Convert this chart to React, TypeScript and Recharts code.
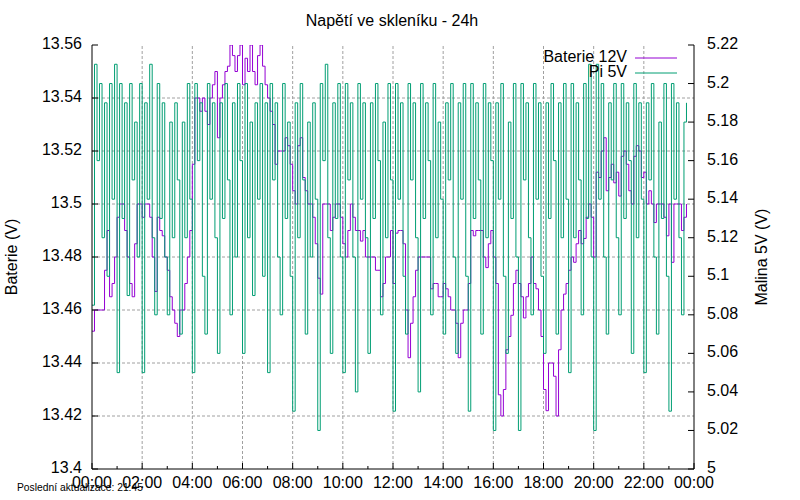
import React from 'react';
import { ComposedChart, Line, XAxis, YAxis, ReferenceLine } from 'recharts';

const FONT = '"Liberation Sans", Arial, sans-serif';
const PURPLE = '#9400d3';
const GREEN = '#009e73';
const GRID = '#a0a0a0';

// sampling interval of the logger, in hours (6 minutes)
const SAMPLE_STEP_H = 0.1;

const hourTicks = [0, 1, 2, 3, 4, 5, 6, 7, 8, 9, 10, 11, 12, 13, 14, 15, 16, 17, 18, 19, 20, 21, 22, 23, 24];
const gridHours = [2, 4, 6, 8, 10, 12, 14, 16, 18, 20, 22];
const batTicks = [13.4, 13.42, 13.44, 13.46, 13.48, 13.5, 13.52, 13.54, 13.56];
const batGrid = [13.42, 13.44, 13.46, 13.48, 13.5, 13.52, 13.54];
const piTicks = [5, 5.02, 5.04, 5.06, 5.08, 5.1, 5.12, 5.14, 5.16, 5.18, 5.2, 5.22];

// Baterie 12V, one value per 6 minutes
const batValues = [
  13.452, 13.46, 13.46, 13.46, 13.46, 13.475, 13.49, 13.465, 13.47, 13.48,
  13.495, 13.5, 13.5, 13.49, 13.48, 13.47, 13.465, 13.485, 13.5, 13.5,
  13.495, 13.5, 13.5, 13.495, 13.48, 13.467, 13.495, 13.49, 13.488, 13.48,
  13.475, 13.465, 13.46, 13.455, 13.45, 13.46, 13.46, 13.47, 13.48, 13.49,
  13.515, 13.54, 13.54, 13.535, 13.54, 13.535, 13.53, 13.54, 13.545, 13.55,
  13.525, 13.54, 13.545, 13.55, 13.552, 13.56, 13.556, 13.55, 13.556, 13.56,
  13.545, 13.555, 13.55, 13.56, 13.55, 13.545, 13.556, 13.56, 13.552, 13.545,
  13.54, 13.535, 13.53, 13.515, 13.52, 13.52, 13.52, 13.525, 13.522, 13.515,
  13.505, 13.5, 13.522, 13.525, 13.51, 13.505, 13.5, 13.5, 13.495, 13.485,
  13.472, 13.466, 13.5, 13.5, 13.5, 13.49, 13.495, 13.5, 13.5, 13.495,
  13.485, 13.48, 13.49, 13.5, 13.495, 13.49, 13.49, 13.486, 13.49, 13.48,
  13.48, 13.48, 13.48, 13.475, 13.475, 13.465, 13.47, 13.48, 13.48, 13.49,
  13.47, 13.489, 13.49, 13.49, 13.485, 13.46, 13.442, 13.455, 13.465, 13.475,
  13.48, 13.48, 13.48, 13.48, 13.48, 13.468, 13.47, 13.47, 13.465, 13.465,
  13.47, 13.468, 13.465, 13.46, 13.46, 13.455, 13.442, 13.455, 13.46, 13.46,
  13.47, 13.49, 13.488, 13.49, 13.49, 13.49, 13.48, 13.476, 13.485, 13.49,
  13.48, 13.47, 13.428, 13.42, 13.43, 13.445, 13.45, 13.458, 13.47, 13.475,
  13.47, 13.465, 13.457, 13.465, 13.47, 13.48, 13.47, 13.468, 13.46, 13.45,
  13.43, 13.422, 13.44, 13.44, 13.435, 13.42, 13.445, 13.46, 13.466, 13.47,
  13.475, 13.48, 13.478, 13.485, 13.49, 13.485, 13.487, 13.495, 13.5, 13.495,
  13.48, 13.512, 13.51, 13.52, 13.525, 13.505, 13.51, 13.515, 13.508, 13.512,
  13.503, 13.518, 13.52, 13.515, 13.505, 13.5, 13.518, 13.522, 13.52, 13.51,
  13.512, 13.5, 13.505, 13.5, 13.493, 13.5, 13.5, 13.5, 13.495, 13.488,
  13.5, 13.478, 13.5, 13.5, 13.5, 13.49, 13.495, 13.5,
];

// Pi 5V, one value per 6 minutes
const piValues = [
  5.085, 5.21, 5.16, 5.2, 5.12, 5.19, 5.1, 5.2, 5.14, 5.21,
  5.05, 5.2, 5.13, 5.19, 5.09, 5.2, 5.15, 5.18, 5.11, 5.2,
  5.05, 5.19, 5.14, 5.21, 5.12, 5.08, 5.2, 5.13, 5.19, 5.11,
  5.08, 5.18, 5.12, 5.19, 5.15, 5.07, 5.18, 5.12, 5.2, 5.14,
  5.05, 5.2, 5.16, 5.19, 5.1, 5.07, 5.2, 5.14, 5.19, 5.12,
  5.06, 5.19, 5.13, 5.2, 5.15, 5.08, 5.19, 5.11, 5.2, 5.16,
  5.06, 5.2, 5.12, 5.18, 5.09, 5.19, 5.14, 5.2, 5.1, 5.19,
  5.05, 5.2, 5.15, 5.19, 5.11, 5.08, 5.2, 5.13, 5.18, 5.1,
  5.03, 5.19, 5.12, 5.2, 5.15, 5.07, 5.18, 5.11, 5.19, 5.14,
  5.02, 5.2, 5.16, 5.21, 5.12, 5.06, 5.19, 5.13, 5.2, 5.11,
  5.05, 5.2, 5.15, 5.19, 5.11, 5.04, 5.2, 5.14, 5.19, 5.12,
  5.06, 5.19, 5.13, 5.2, 5.16, 5.08, 5.18, 5.12, 5.2, 5.15,
  5.03, 5.2, 5.14, 5.19, 5.1, 5.07, 5.2, 5.15, 5.19, 5.12,
  5.04, 5.2, 5.13, 5.19, 5.16, 5.08, 5.2, 5.12, 5.18, 5.14,
  5.07, 5.19, 5.15, 5.2, 5.11, 5.06, 5.19, 5.14, 5.2, 5.1,
  5.03, 5.2, 5.13, 5.19, 5.15, 5.07, 5.2, 5.12, 5.19, 5.16,
  5.02, 5.19, 5.14, 5.2, 5.1, 5.06, 5.18, 5.13, 5.2, 5.11,
  5.02, 5.2, 5.15, 5.19, 5.12, 5.08, 5.2, 5.14, 5.19, 5.1,
  5.06, 5.19, 5.13, 5.2, 5.16, 5.07, 5.19, 5.12, 5.2, 5.14,
  5.05, 5.2, 5.12, 5.19, 5.15, 5.08, 5.2, 5.13, 5.21, 5.11,
  5.02, 5.21, 5.14, 5.2, 5.11, 5.07, 5.19, 5.15, 5.2, 5.12,
  5.08, 5.2, 5.13, 5.19, 5.16, 5.06, 5.2, 5.12, 5.19, 5.14,
  5.05, 5.19, 5.15, 5.2, 5.11, 5.07, 5.18, 5.13, 5.2, 5.1,
  5.03, 5.2, 5.14, 5.19, 5.12, 5.08, 5.18, 5.19,
];

const data = batValues.map((b, i) => ({
  t: Math.round(i * SAMPLE_STEP_H * 100) / 100,
  bat: b,
  pi: piValues[i],
}));

const fmtHour = (h: number) => `${String(h % 24).padStart(2, '0')}:00`;
const fmtNum = (v: number) => String(parseFloat(v.toFixed(2)));

const BottomTick = (props: any) => {
  const { x, y, payload } = props;
  const major = payload.value % 2 === 0;
  const axisY = y - 7;
  return (
    <g>
      <line x1={x} x2={x} y1={axisY} y2={axisY - (major ? 6 : 3)} stroke="#000" strokeWidth={1} />
      {major && (
        <text x={x} y={y} dy={12} textAnchor="middle" fontSize={16} fontFamily={FONT} fill="#000">
          {fmtHour(payload.value)}
        </text>
      )}
    </g>
  );
};

const TopTick = (props: any) => {
  const { x, y, payload } = props;
  const major = payload.value % 2 === 0;
  return <line x1={x} x2={x} y1={y} y2={y + (major ? 6 : 3)} stroke="#000" strokeWidth={1} />;
};

const LeftTick = (props: any) => {
  const { x, y, payload } = props;
  const axisX = x + 10;
  return (
    <g>
      <line x1={axisX} x2={axisX + 6} y1={y} y2={y} stroke="#000" strokeWidth={1} />
      <text x={x} y={y} dy={4} textAnchor="end" fontSize={16} fontFamily={FONT} fill="#000">
        {fmtNum(payload.value)}
      </text>
    </g>
  );
};

const RightTick = (props: any) => {
  const { x, y, payload } = props;
  const axisX = x - 13;
  return (
    <g>
      <line x1={axisX} x2={axisX - 6} y1={y} y2={y} stroke="#000" strokeWidth={1} />
      <text x={x} y={y} dy={4} textAnchor="start" fontSize={16} fontFamily={FONT} fill="#000">
        {fmtNum(payload.value)}
      </text>
    </g>
  );
};

export default function App() {
  return (
    <div style={{ position: 'absolute', left: 0, top: 0, width: 800, height: 500, background: '#fff' }}>
      <ComposedChart width={800} height={500} data={data} margin={{ top: 45, right: 56, bottom: 1, left: 42 }}>
        <XAxis
          xAxisId="bottom"
          type="number"
          dataKey="t"
          domain={[0, 24]}
          ticks={hourTicks}
          interval={0}
          height={30}
          tickSize={0}
          tickMargin={7}
          tickLine={false}
          axisLine={{ stroke: '#000' }}
          tick={BottomTick}
          allowDataOverflow
        />
        <XAxis
          xAxisId="top"
          orientation="top"
          type="number"
          dataKey="t"
          domain={[0, 24]}
          ticks={hourTicks}
          interval={0}
          height={0}
          tickSize={0}
          tickMargin={0}
          tickLine={false}
          axisLine={{ stroke: '#000' }}
          tick={TopTick}
          allowDataOverflow
        />
        <YAxis
          yAxisId="left"
          orientation="left"
          type="number"
          domain={[13.4, 13.56]}
          ticks={batTicks}
          interval={0}
          width={50}
          tickSize={0}
          tickMargin={10}
          tickLine={false}
          axisLine={{ stroke: '#000' }}
          tick={LeftTick}
          allowDataOverflow
        />
        <YAxis
          yAxisId="right"
          orientation="right"
          type="number"
          domain={[5, 5.22]}
          ticks={piTicks}
          interval={0}
          width={50}
          tickSize={0}
          tickMargin={13}
          tickLine={false}
          axisLine={{ stroke: '#000' }}
          tick={RightTick}
          allowDataOverflow
        />
        {batGrid.map((v) => (
          <ReferenceLine key={'h' + v} xAxisId="bottom" yAxisId="left" y={v} stroke={GRID} strokeDasharray="3 2" />
        ))}
        {gridHours.map((h) => (
          <ReferenceLine key={'v' + h} xAxisId="bottom" yAxisId="left" x={h} stroke={GRID} strokeDasharray="3 2" />
        ))}
        <Line
          xAxisId="bottom"
          yAxisId="left"
          dataKey="bat"
          type="stepAfter"
          stroke={PURPLE}
          strokeWidth={1}
          dot={false}
          activeDot={false}
          isAnimationActive={false}
        />
        <Line
          xAxisId="bottom"
          yAxisId="right"
          dataKey="pi"
          type="stepAfter"
          stroke={GREEN}
          strokeWidth={1}
          dot={false}
          activeDot={false}
          isAnimationActive={false}
        />
      </ComposedChart>
      <svg width={800} height={500} style={{ position: 'absolute', left: 0, top: 0, pointerEvents: 'none' }}>
        <text x={392} y={26} textAnchor="middle" fontSize={16} fontFamily={FONT} fill="#000">
          Napětí ve skleníku - 24h
        </text>
        <text x={627} y={62} textAnchor="end" fontSize={16} fontFamily={FONT} fill="#000">
          Baterie 12V
        </text>
        <line x1={635} x2={677} y1={58} y2={58} stroke={PURPLE} strokeWidth={1} />
        <text x={627} y={77} textAnchor="end" fontSize={16} fontFamily={FONT} fill="#000">
          Pi 5V
        </text>
        <line x1={635} x2={677} y1={73} y2={73} stroke={GREEN} strokeWidth={1} />
        <text
          x={17}
          y={257}
          textAnchor="middle"
          fontSize={16}
          fontFamily={FONT}
          fill="#000"
          transform="rotate(-90, 17, 257)"
        >
          Baterie (V)
        </text>
        <text
          x={767}
          y={257}
          textAnchor="middle"
          fontSize={16}
          fontFamily={FONT}
          fill="#000"
          transform="rotate(-90, 767, 257)"
        >
          Malina 5V (V)
        </text>
        <text x={17} y={491} fontSize={10.3} fontFamily={FONT} fill="#000">
          Poslední aktualizace: 21:45
        </text>
      </svg>
    </div>
  );
}
